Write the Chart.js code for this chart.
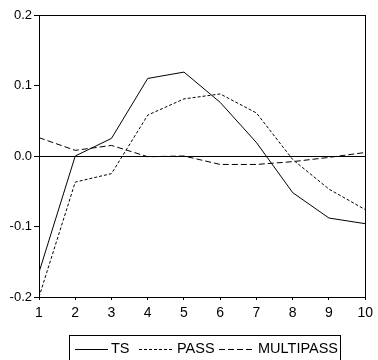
<!DOCTYPE html>
<html>
<head>
<meta charset="utf-8">
<script src="https://cdn.jsdelivr.net/npm/chart.js@4/dist/chart.umd.min.js"></script>
<style>
  html, body { margin: 0; padding: 0; background: #fff; }
  #wrap { position: relative; width: 378px; height: 360px; overflow: hidden; }
  #legend {
    position: absolute; left: 69px; top: 335px; width: 272px; height: 30px;
    border: 1px solid #000; box-sizing: border-box;
    font: 14.5px "Liberation Sans", Arial, sans-serif; color: #000;
  }
  #legend .sw { position: absolute; top: 8px; }
  #legend .tx { position: absolute; top: 4px; line-height: 17px; white-space: nowrap; }
</style>
</head>
<body>
<div id="wrap">
  <canvas id="c" width="378" height="360"></canvas>
  <div id="legend"></div>
</div>
<script>
const steps = [1, 2, 3, 4, 5, 6, 7, 8, 9, 10];
const ts = [-0.165, 0.0, 0.025, 0.11, 0.119, 0.076, 0.019, -0.052, -0.088, -0.096];
const pass = [-0.2, -0.037, -0.025, 0.058, 0.081, 0.088, 0.061, -0.005, -0.047, -0.076];
const multipass = [0.026, 0.008, 0.015, -0.001, 0.0, -0.012, -0.012, -0.008, -0.002, 0.005];
const yTicks = [-0.2, -0.1, 0.0, 0.1, 0.2];

const series = [
  { label: "TS", data: ts, dash: [] },
  { label: "PASS", data: pass, dash: [3, 2] },
  { label: "MULTIPASS", data: multipass, dash: [6, 3] },
];

// frame around the plot area
const frame = {
  id: "frame",
  afterDatasetsDraw(chart) {
    const a = chart.chartArea;
    const ctx = chart.ctx;
    ctx.save();
    ctx.strokeStyle = "#000";
    ctx.lineWidth = 1;
    ctx.strokeRect(Math.round(a.left) + 0.5, Math.round(a.top) + 0.5,
      Math.round(a.right - a.left), Math.round(a.bottom - a.top));
    ctx.restore();
  },
};

const font = { family: "'Liberation Sans', Arial, sans-serif", size: 13 };

new Chart(document.getElementById("c"), {
  type: "line",
  data: {
    datasets: series.map((s) => ({
      label: s.label,
      data: steps.map((x, i) => ({ x, y: s.data[i] })),
      borderColor: "#000",
      borderWidth: 1,
      borderDash: s.dash,
      pointRadius: 0,
      tension: 0,
      fill: false,
    })),
  },
  options: {
    responsive: false,
    animation: false,
    layout: { padding: { top: 15, right: 7, left: 0, bottom: 0 } },
    plugins: { legend: { display: false }, tooltip: { enabled: false } },
    scales: {
      x: {
        type: "linear",
        min: 1,
        max: 10,
        afterBuildTicks: (s) => { s.ticks = steps.map((v) => ({ value: v })); },
        afterFit: (s) => { s.height = 63; },
        ticks: { color: "#000", font: { ...font, size: 14 }, padding: 5, maxRotation: 0 },
        grid: { drawOnChartArea: false, tickLength: 3, color: "#000", tickColor: "#000" },
        border: { color: "#000" },
      },
      y: {
        min: -0.2,
        max: 0.2,
        afterBuildTicks: (s) => { s.ticks = yTicks.map((v) => ({ value: v })); },
        afterFit: (s) => { s.width = 39; },
        ticks: { color: "#000", font, padding: 2, callback: (v) => v.toFixed(1) },
        grid: {
          tickLength: 5,
          tickColor: "#000",
          color: (c) => (c.tick && c.tick.value === 0 ? "#000" : "rgba(0,0,0,0)"),
        },
        border: { color: "#000" },
      },
    },
  },
  plugins: [frame],
});

// legend: swatch and text offsets inside the box
const legendPos = [
  { sw: 5, tx: 41 },
  { sw: 69, tx: 107 },
  { sw: 149, tx: 188 },
];
const legend = document.getElementById("legend");
series.forEach((s, i) => {
  const p = legendPos[i];
  const sw = document.createElement("div");
  sw.className = "sw";
  sw.style.left = p.sw + "px";
  sw.innerHTML = `<svg width="33" height="10" style="display:block"><line x1="0" y1="5.5" x2="33" y2="5.5" stroke="#000" stroke-width="1" stroke-dasharray="${s.dash.join(",") || "none"}"/></svg>`;
  const tx = document.createElement("div");
  tx.className = "tx";
  tx.style.left = p.tx + "px";
  tx.textContent = s.label;
  legend.appendChild(sw);
  legend.appendChild(tx);
});
</script>
</body>
</html>
